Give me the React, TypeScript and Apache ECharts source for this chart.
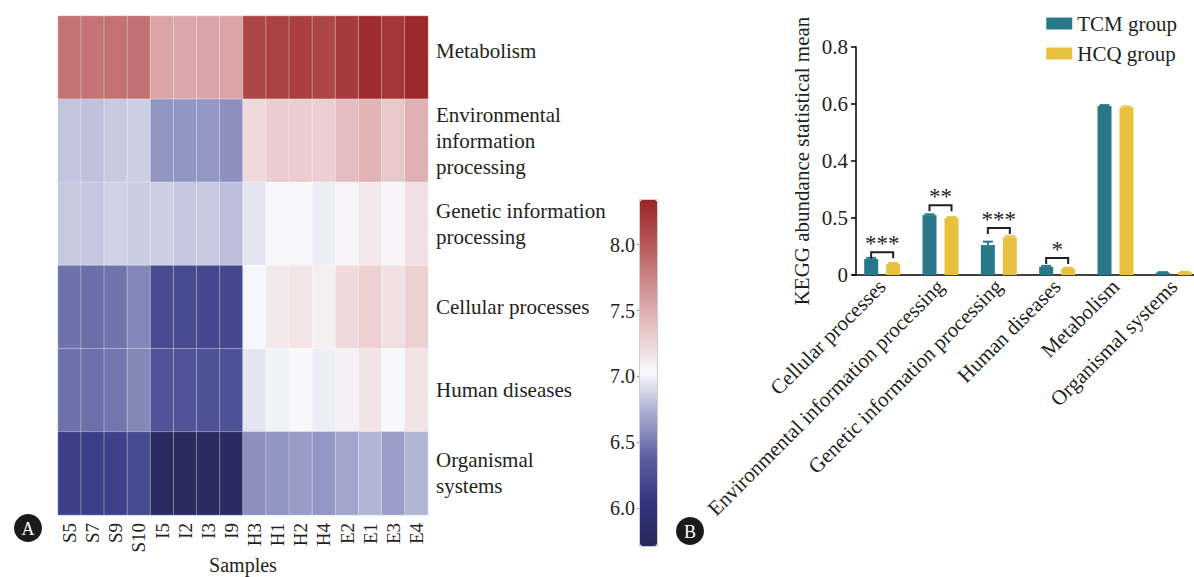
import React, { useEffect, useRef } from "react";
import * as echarts from "echarts";

const FONT = "Liberation Serif";
const INK = "#231f20";

// ---- Panel A: heatmap ----
const samples = ["S5", "S7", "S9", "S10", "I5", "I2", "I3", "I9", "H3", "H1", "H2", "H4", "E2", "E1", "E3", "E4"];
const pathways = [
  "Metabolism",
  "Environmental\ninformation\nprocessing",
  "Genetic information\nprocessing",
  "Cellular processes",
  "Human diseases",
  "Organismal\nsystems",
];
const rowMetabolism = [7.85, 7.84, 7.85, 7.86, 7.55, 7.53, 7.54, 7.55, 8.12, 8.15, 8.17, 8.12, 8.2, 8.3, 8.22, 8.32];
const rowEnvironmental = [6.82, 6.81, 6.84, 6.86, 6.62, 6.62, 6.63, 6.6, 7.23, 7.3, 7.3, 7.29, 7.4, 7.46, 7.33, 7.47];
const rowGenetic = [6.84, 6.83, 6.87, 6.85, 6.86, 6.83, 6.84, 6.8, 6.95, 7.02, 7.04, 6.98, 7.05, 7.12, 7.05, 7.18];
const rowCellular = [6.46, 6.44, 6.47, 6.55, 6.22, 6.2, 6.19, 6.19, 7.04, 7.12, 7.15, 7.09, 7.22, 7.28, 7.18, 7.28];
const rowHuman = [6.46, 6.45, 6.48, 6.56, 6.28, 6.28, 6.27, 6.26, 6.95, 7.0, 7.03, 6.98, 7.08, 7.16, 7.03, 7.16];
const rowOrganismal = [6.12, 6.11, 6.13, 6.2, 5.77, 5.75, 5.77, 5.76, 6.6, 6.62, 6.65, 6.63, 6.69, 6.76, 6.66, 6.76];
const heatRows = [rowMetabolism, rowEnvironmental, rowGenetic, rowCellular, rowHuman, rowOrganismal];
const colorMin = 5.71;
const colorMax = 8.34;
const colorTicks = [6.0, 6.5, 7.0, 7.5, 8.0];

// ---- Panel B: grouped bars ----
const barCategories = [
  "Cellular processes",
  "Environmental information processing",
  "Genetic information processing",
  "Human diseases",
  "Metabolism",
  "Organismal systems",
];
const tcmMeans = [0.056, 0.21, 0.105, 0.029, 0.593, 0.009];
const tcmErrors = [0.004, 0.003, 0.012, 0.003, 0.003, 0.001];
const hcqMeans = [0.039, 0.2, 0.132, 0.023, 0.588, 0.01];
const hcqErrors = [0.003, 0.003, 0.004, 0.002, 0.003, 0.001];
const sigCategories = [0, 1, 2, 3];
const sigLevels = [0.08, 0.245, 0.165, 0.06];
const sigLabels = ["***", "**", "***", "*"];
const yTickLabels = ["0", "0.5", "0.4", "0.6", "0.8"];

const TEAL = "#28788a";
const YELLOW = "#e8c23f";

export default function App() {
  const ref = useRef<HTMLDivElement>(null);
  useEffect(() => {
    document.body.style.margin = "0";
    const chart = echarts.init(ref.current!, null, { renderer: "svg" });

    const heatData: number[][] = [];
    heatRows.forEach((row, r) => row.forEach((v, c) => heatData.push([c, r, v])));

    const errSeries = (means: number[], errs: number[], off: number, color: string) => ({
      type: "custom",
      xAxisIndex: 1,
      yAxisIndex: 1,
      silent: true,
      z: 5,
      data: means.map((m, i) => [i, m, errs[i]]),
      renderItem: (params: any, api: any) => {
        const i = api.value(0);
        const m = api.value(1);
        const e = api.value(2);
        const p1 = api.coord([i, m]);
        const p2 = api.coord([i, m + e]);
        const x = p1[0] + off;
        return {
          type: "group",
          children: [
            { type: "line", shape: { x1: x, y1: p1[1], x2: x, y2: p2[1] }, style: { stroke: color, lineWidth: 2 } },
            { type: "line", shape: { x1: x - 5, y1: p2[1], x2: x + 5, y2: p2[1] }, style: { stroke: color, lineWidth: 2 } },
          ],
        };
      },
    });

    const option: any = {
      animation: false,
      textStyle: { fontFamily: FONT, color: INK },
      grid: [
        { left: 58, top: 16, width: 370, height: 499, outerBoundsMode: "none", containLabel: false },
        { left: 853, top: 47, width: 350, height: 228, outerBoundsMode: "none", containLabel: false },
        { left: 640, top: 200, width: 17, height: 346, outerBoundsMode: "none", containLabel: false },
      ],
      xAxis: [
        {
          gridIndex: 0,
          type: "category",
          data: samples,
          axisLine: { show: false },
          axisTick: { show: false },
          axisLabel: { rotate: 90, interval: 0, fontSize: 19, fontFamily: FONT, color: INK, margin: 8 },
          name: "Samples",
          nameLocation: "middle",
          nameGap: 40,
          nameMoveOverlap: false,
          nameTextStyle: { fontSize: 20, fontFamily: FONT, color: INK },
        },
        {
          gridIndex: 1,
          type: "category",
          data: barCategories,
          axisLine: { lineStyle: { color: "#000", width: 1.5 } },
          axisTick: { show: false },
          axisLabel: { rotate: 45, fontSize: 21, fontFamily: FONT, color: INK, margin: 8, interval: 0 },
        },
        { gridIndex: 2, type: "value", show: false, min: 0, max: 1 },
      ],
      yAxis: [
        {
          gridIndex: 0,
          type: "category",
          data: pathways,
          inverse: true,
          position: "right",
          axisLine: { show: false },
          axisTick: { show: false },
          axisLabel: {
            fontSize: 21,
            fontFamily: FONT,
            color: INK,
            align: "left",
            margin: 8,
            lineHeight: 26,
            formatter: (v: string) => (v === "Metabolism" ? `{m|${v}}` : v),
            rich: { m: { fontSize: 21, fontFamily: FONT, color: INK, padding: [0, 0, 14, 0] } },
          },
        },
        {
          gridIndex: 1,
          type: "value",
          min: 0,
          max: 0.8,
          interval: 0.2,
          offset: -3,
          axisLine: { show: true, lineStyle: { color: "#000", width: 1.5 } },
          axisTick: { show: true, length: 5, lineStyle: { color: "#000", width: 1.5 } },
          splitLine: { show: false },
          axisLabel: {
            fontSize: 21,
            fontFamily: FONT,
            color: INK,
            margin: 8,
            formatter: (v: number) => yTickLabels[Math.round(v / 0.2)] ?? "",
          },
          name: "KEGG abundance statistical mean",
          nameLocation: "middle",
          nameGap: 44,
          nameMoveOverlap: false,
          nameTextStyle: { fontSize: 21, fontFamily: FONT, color: INK },
        },
        {
          gridIndex: 2,
          type: "value",
          min: colorMin,
          max: colorMax,
          axisLine: { show: false },
          splitLine: { show: false },
          axisTick: { show: true, length: 3, customValues: colorTicks, lineStyle: { color: "#888" } },
          axisLabel: {
            customValues: colorTicks,
            fontSize: 20,
            fontFamily: FONT,
            color: INK,
            margin: 5,
            formatter: (v: number) => v.toFixed(1),
          },
        },
      ],
      visualMap: {
        type: "continuous",
        seriesIndex: 0,
        min: colorMin,
        max: colorMax,
        left: 640,
        top: 200,
        itemWidth: 17,
        itemHeight: 346,
        padding: 0,
        calculable: false,
        text: ["", ""],
        showLabel: false,
        hoverLink: false,
        inRange: {
          color: ["#28295a", "#333680", "#5a5e9f", "#a2a5cc", "#f8f8fc", "#e8c4c6", "#d08e91", "#b65759", "#9b2527"],
        },
      },
      legend: {
        data: ["TCM group", "HCQ group"],
        orient: "vertical",
        right: 12,
        top: 8,
        icon: "rect",
        itemWidth: 26,
        itemHeight: 12,
        itemGap: 9,
        textStyle: { fontSize: 21, fontFamily: FONT, color: INK },
      },
      series: [
        {
          type: "heatmap",
          xAxisIndex: 0,
          yAxisIndex: 0,
          data: heatData,
          itemStyle: { borderColor: "rgba(255,255,255,0.35)", borderWidth: 1 },
          emphasis: { disabled: true },
        },
        {
          name: "TCM group",
          type: "bar",
          xAxisIndex: 1,
          yAxisIndex: 1,
          data: tcmMeans,
          barWidth: 14,
          barGap: "57%",
          itemStyle: { color: TEAL },
        },
        {
          name: "HCQ group",
          type: "bar",
          xAxisIndex: 1,
          yAxisIndex: 1,
          data: hcqMeans,
          barWidth: 14,
          barGap: "57%",
          itemStyle: { color: YELLOW },
        },
        errSeries(tcmMeans, tcmErrors, -11, TEAL),
        errSeries(hcqMeans, hcqErrors, 11, YELLOW),
        {
          type: "custom",
          xAxisIndex: 1,
          yAxisIndex: 1,
          silent: true,
          z: 6,
          data: sigCategories.map((c, i) => [c, sigLevels[i]]),
          renderItem: (params: any, api: any) => {
            const p = api.coord([api.value(0), api.value(1)]);
            return {
              type: "group",
              children: [
                {
                  type: "polyline",
                  shape: { points: [[p[0] - 11, p[1] + 6], [p[0] - 11, p[1]], [p[0] + 11, p[1]], [p[0] + 11, p[1] + 6]] },
                  style: { stroke: INK, lineWidth: 2, fill: "none" },
                },
                {
                  type: "text",
                  x: p[0],
                  y: p[1] + 3,
                  style: {
                    text: sigLabels[params.dataIndex],
                    fontSize: 23,
                    fontFamily: FONT,
                    fill: INK,
                    align: "center",
                    verticalAlign: "bottom",
                  },
                },
              ],
            };
          },
        },
        { type: "scatter", xAxisIndex: 2, yAxisIndex: 2, data: [] },
      ],
      graphic: [
        { type: "rect", shape: { x: 639.5, y: 199.5, width: 18, height: 347 }, style: { fill: "none", stroke: "#cfcfcf", lineWidth: 1 }, z: 10 },
        { type: "circle", shape: { cx: 28, cy: 528, r: 14 }, style: { fill: "#1a1a1a" } },
        {
          type: "text",
          x: 28,
          y: 529,
          style: { text: "A", fill: "#fff", fontSize: 18, fontFamily: FONT, align: "center", verticalAlign: "middle" },
        },
        { type: "circle", shape: { cx: 690, cy: 531, r: 14 }, style: { fill: "#1a1a1a" } },
        {
          type: "text",
          x: 690,
          y: 532,
          style: { text: "B", fill: "#fff", fontSize: 18, fontFamily: FONT, align: "center", verticalAlign: "middle" },
        },
      ],
    };
    chart.setOption(option);
    return () => chart.dispose();
  }, []);
  return <div ref={ref} style={{ width: 1194, height: 577 }} />;
}
